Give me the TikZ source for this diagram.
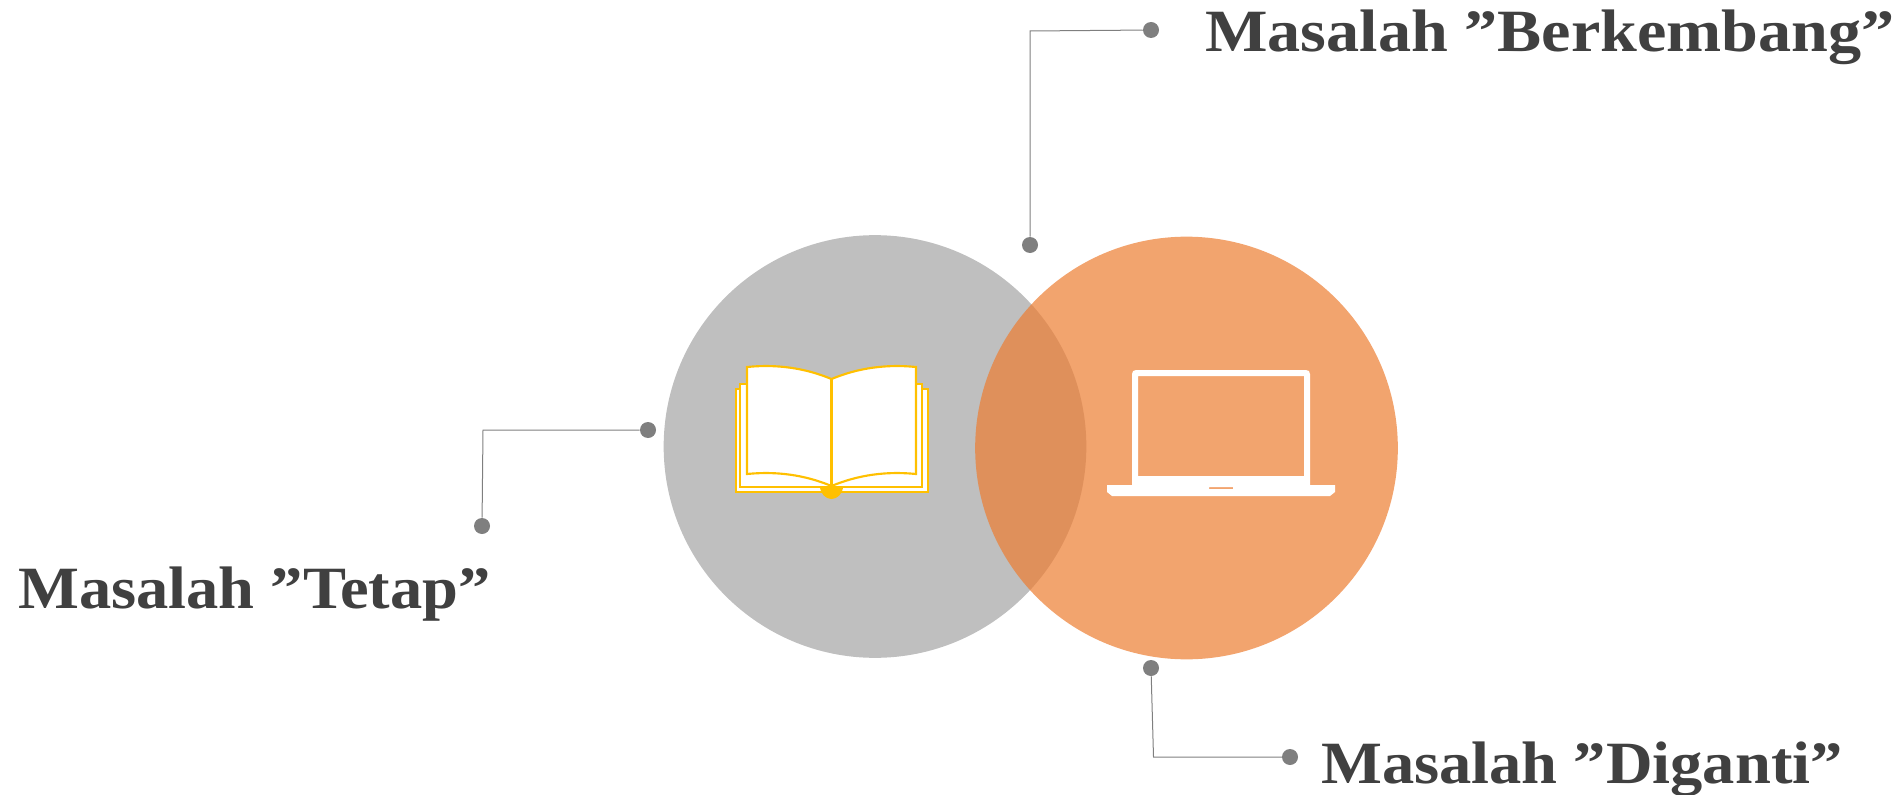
\documentclass[tikz,border=0pt]{standalone}
\usepackage{fontspec}
\setmainfont{Liberation Serif}
\newfontfamily\labelfont[FakeStretch=1.075]{Liberation Serif}
\newfontfamily\widelabelfont[FakeStretch=1.103]{Liberation Serif}
\definecolor{textgrey}{RGB}{64,64,64}
\definecolor{dotgrey}{RGB}{127,127,127}
\definecolor{bookyellow}{RGB}{255,192,0}
\definecolor{circlegrey}{RGB}{191,191,191}
\definecolor{circleorange}{RGB}{237,125,49}
\begin{document}
\begin{tikzpicture}[x=0.75pt,y=0.75pt,yscale=-1,xscale=1,
  label text/.style={anchor=base west,inner sep=0pt,text=textgrey,font=\fontsize{45}{50}\selectfont\bfseries},
  end dot/.style={circle,fill=dotgrey,inner sep=0pt,minimum size=12pt},
  leader/.style={draw=dotgrey,line width=0.75pt},
  book sheet/.style={draw=bookyellow,fill=white,line width=1.6pt},
  big circle/.style={circle,inner sep=0pt,minimum size=317pt}]
\useasboundingbox (0,0) rectangle (1898,795);

%Shape: Circles
\node [big circle,fill=circlegrey] (circleTetap) at (875,446.5) {};
\node [big circle,fill=circleorange,fill opacity=0.7] (circleBaru) at (1186.5,448) {};

%Shape: Book
\draw [book sheet] (736,389) -- (928,389) -- (928,492) -- (736,492) -- cycle ;
\draw [book sheet] (740,384) -- (922,384) -- (922,487) -- (740,487) -- cycle ;
\draw [book sheet] (747,367) .. controls (777,364) and (805,368) .. (831.5,379) .. controls (858,368) and (886,364) .. (916,367) -- (916,474) .. controls (886,471) and (858,475) .. (831.5,486) .. controls (805,475) and (777,471) .. (747,474) -- cycle ;
\draw [draw=bookyellow,line width=1.6pt] (831.5,379) -- (831.5,486) ;
\fill [bookyellow] (820,486) -- (843,486) .. controls (843,494) and (837,499) .. (831.5,499) .. controls (826,499) and (820,494) .. (820,486) -- cycle ;

%Shape: Laptop
\fill [white,even odd rule] (1132,485) -- (1132,374) .. controls (1132,371.5) and (1133.5,370) .. (1136,370) -- (1306,370) .. controls (1308.5,370) and (1310,371.5) .. (1310,374) -- (1310,485) -- (1335,485) -- (1335,492) -- (1330,496) -- (1112,496) -- (1107,492) -- (1107,485) -- cycle (1138,376) -- (1304,376) -- (1304,476) -- (1138,476) -- cycle (1209,487) -- (1233,487) -- (1233,489) -- (1209,489) -- cycle ;

%End dots
\node [end dot] (dotBerkembangA) at (1151,30) {};
\node [end dot] (dotBerkembangB) at (1030,245) {};
\node [end dot] (dotTetapA) at (648,430) {};
\node [end dot] (dotTetapB) at (482,526) {};
\node [end dot] (dotDigantiA) at (1151,668) {};
\node [end dot] (dotDigantiB) at (1290,757) {};
\coordinate (bendBerkembang) at (1030,31);
\coordinate (bendTetap) at (483,430);
\coordinate (bendDiganti) at (1153.5,757);

%Straight Lines
\draw [leader] (dotBerkembangA) -- (bendBerkembang) -- (dotBerkembangB) ;
\draw [leader] (dotTetapA) -- (bendTetap) -- (dotTetapB) ;
\draw [leader] (dotDigantiA) -- (bendDiganti) -- (dotDigantiB) ;

% Text Node
\node [label text] (textBerkembang) at (1205,52) {\widelabelfont\bfseries Masalah ”Berkembang”};
% Text Node
\node [label text] (textTetap) at (18,608) {\labelfont\bfseries Masalah ”Tetap”};
% Text Node
\node [label text] (textDiganti) at (1321,783) {\labelfont\bfseries Masalah ”Diganti”};
\end{tikzpicture}
\end{document}
